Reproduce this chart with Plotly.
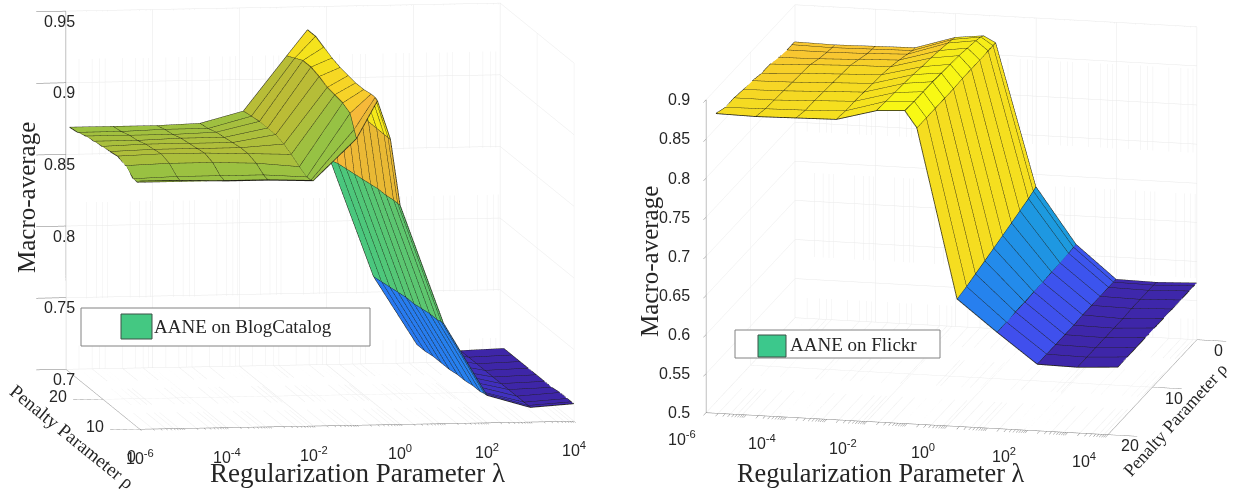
import numpy as np
import plotly.graph_objects as go

# ---------- data ----------
blog_lam_exp = [-6, -5, -4, -3, -2, -1, -0.52, -0.22, 0, 1, 2, 3, 4]
blog_rho = [0.1, 0.7, 1.8, 3.8, 6, 8, 10.2, 12.4, 14.6, 16.8, 19]
blog_z = [  # one list per lambda, values along rho
    [.873, .871, .871, .876, .878, .877, .876, .875, .874, .872, .871],
    [.873, .871, .872, .877, .879, .878, .877, .875, .874, .872, .871],
    [.872, .871, .872, .877, .879, .878, .877, .876, .874, .873, .871],
    [.872, .871, .872, .876, .878, .878, .877, .876, .875, .873, .872],
    [.871, .870, .870, .873, .877, .880, .882, .882, .882, .881, .880],
    [.900, .905, .914, .917, .918, .919, .922, .924, .924, .921, .918],
    [.926, .927, .927, .926, .926, .927, .928, .930, .933, .936, .936],
    [.899, .899, .899, .899, .899, .900, .901, .902, .904, .906, .908],
    [.853, .853, .853, .852, .852, .851, .850, .849, .848, .847, .845],
    [.770, .770, .769, .769, .768, .767, .767, .766, .765, .764, .763],
    [.719, .719, .718, .718, .717, .717, .716, .716, .716, .715, .715],
    [.710, .710, .710, .710, .710, .710, .710, .710, .710, .710, .710],
    [.712, .712, .712, .712, .711, .711, .711, .711, .711, .711, .711],
]

flickr_lam_exp = [-6, -5, -4, -3, -2, -1.3, -1, 0, 1, 2, 3, 4]
flickr_rho = [0.1, 0.7, 1.8, 3.7, 5.6, 7.6, 9.6, 11.6, 13.7, 15.7, 17.8]
flickr_z = [
    [.853, .853, .853, .855, .858, .858, .861, .862, .864, .864, .869],
    [.852, .852, .853, .856, .860, .861, .862, .863, .864, .865, .868],
    [.853, .853, .854, .858, .862, .863, .864, .865, .866, .866, .869],
    [.854, .854, .856, .860, .863, .865, .866, .867, .868, .868, .870],
    [.870, .871, .873, .875, .877, .878, .880, .881, .882, .883, .884],
    [.874, .876, .878, .880, .882, .883, .884, .885, .885, .885, .886],
    [.866, .866, .866, .866, .866, .866, .865, .865, .865, .865, .865],
    [.685, .683, .680, .676, .672, .668, .664, .660, .656, .652, .649],
    [.614, .614, .613, .612, .612, .611, .611, .610, .610, .609, .609],
    [.572, .572, .572, .572, .572, .572, .571, .571, .571, .571, .571],
    [.571, .571, .571, .571, .571, .570, .570, .570, .570, .570, .570],
    [.573, .573, .573, .573, .573, .573, .573, .573, .573, .573, .573],
]

lam_tick_exp = [-6, -4, -2, 0, 2, 4]
lam_labels = ["10<sup>-6</sup>", "10<sup>-4</sup>", "10<sup>-2</sup>", "10<sup>0</sup>", "10<sup>2</sup>", "10<sup>4</sup>"]
rho_ticks = [0, 10, 20]
blog_z_ticks = [0.7, 0.75, 0.8, 0.85, 0.9, 0.95]
flickr_z_ticks = [0.5, 0.55, 0.6, 0.65, 0.7, 0.75, 0.8, 0.85, 0.9]

# every decade and the 2..9 multiples: the tick marks of the log axis
lam_all_ticks = [m * 10.0 ** d for d in range(-6, 4) for m in range(1, 10)] + [1e4]

# ---------- colour map ----------
P_T = [0, .1, .2, .3, .4, .5, .6, .7, .8, .87, .94, 1]
P_C = [(62, 38, 168), (70, 70, 235), (45, 110, 245), (35, 140, 235), (25, 165, 215), (35, 185, 175),
       (70, 200, 130), (145, 195, 70), (215, 185, 45), (250, 185, 60), (245, 225, 30), (249, 251, 20)]


def parula(t):
    t = float(np.clip(t, 0, 1))
    c = [np.interp(t, P_T, [p[n] for p in P_C]) for n in range(3)]
    return "rgb(%d,%d,%d)" % tuple(c)


def surface_traces(lam_exp, rho, z, scene):
    lam = [10.0 ** e for e in lam_exp]
    nl, nr = len(lam), len(rho)
    zz = np.array(z)
    zmin, zmax = zz.min(), zz.max()
    xs, ys, zs = [], [], []
    for a in range(nl):
        for b in range(nr):
            xs.append(lam[a]); ys.append(rho[b]); zs.append(zz[a, b])
    I, J, K, colors = [], [], [], []
    for a in range(nl - 1):
        for b in range(nr - 1):
            v0 = a * nr + b
            v1 = v0 + 1
            v2 = v0 + nr
            v3 = v2 + 1
            col = parula((zz[a, b] - zmin) / (zmax - zmin))
            I += [v0, v1]; J += [v1, v3]; K += [v2, v2]
            colors += [col, col]
    mesh = go.Mesh3d(x=xs, y=ys, z=zs, i=I, j=J, k=K, facecolor=colors, flatshading=True,
                     lighting=dict(ambient=1, diffuse=0, specular=0, fresnel=0, roughness=1),
                     hoverinfo="skip", showscale=False, scene=scene)
    lx, ly, lz = [], [], []
    for a in range(nl):
        lx += [lam[a]] * nr + [None]; ly += list(rho) + [None]; lz += list(zz[a]) + [None]
    for b in range(nr):
        lx += lam + [None]; ly += [rho[b]] * nl + [None]; lz += list(zz[:, b]) + [None]
    lines = go.Scatter3d(x=lx, y=ly, z=lz, mode="lines", line=dict(color="rgb(30,30,20)", width=1.6),
                         hoverinfo="skip", showlegend=False, scene=scene)
    return [mesh, lines]


def wall_traces(z0, z1, rho_back, rho_front, scene):
    mx, my, mz, gx, gy, gz = [], [], [], [], [], []
    for d in range(-6, 4):
        for m in range(2, 10):
            v = m * 10.0 ** d
            mx += [v, v, v, None]; my += [rho_front, rho_back, rho_back, None]; mz += [z0, z0, z1, None]
    for e in lam_tick_exp:
        v = 10.0 ** e
        gx += [v, v, v, None]; gy += [rho_front, rho_back, rho_back, None]; gz += [z0, z0, z1, None]
    dots = go.Scatter3d(x=mx, y=my, z=mz, mode="lines", line=dict(color="rgb(238,238,238)", width=1, dash="dot"),
                        hoverinfo="skip", showlegend=False, scene=scene)
    grid = go.Scatter3d(x=gx, y=gy, z=gz, mode="lines", line=dict(color="rgb(232,232,232)", width=1),
                        hoverinfo="skip", showlegend=False, scene=scene)
    return [dots, grid]


def axis(**kw):
    base = dict(title=dict(text=""), showbackground=False, showgrid=True, gridcolor="rgb(232,232,232)", gridwidth=1,
                showline=True, linecolor="rgb(130,130,130)", linewidth=1, zeroline=False, showspikes=False,
                ticks="outside", ticklen=6, tickcolor="rgb(120,120,120)", showticklabels=False)
    base.update(kw)
    return base


def tick_notes(x_at, y_front, y_side, z_floor, zticks, x_off, y_off, z_off):
    """Tick labels as annotations tied to the scene's own axes (x in log10 units); offsets are in pixels."""
    tf = dict(family="Liberation Sans", size=16, color="#262626")
    out = []
    for e, s in zip(lam_tick_exp, lam_labels):
        out.append(dict(x=e, y=y_front, z=z_floor, text=s, showarrow=False, font=tf, xanchor="center", yanchor="middle",
                        xshift=x_off[0], yshift=-x_off[1]))
    for r in rho_ticks:
        out.append(dict(x=y_side, y=r, z=z_floor, text=str(r), showarrow=False, font=tf, xanchor="center",
                        yanchor="middle", xshift=y_off[0], yshift=-y_off[1]))
    top = max(zticks)
    for v in zticks:
        out.append(dict(x=x_at, y=z_off[2], z=min(v, top - 1e-9), text="%g" % v, showarrow=False, font=tf, xanchor="right",
                        yanchor="middle", xshift=z_off[0], yshift=-z_off[1]))
    return out


fig = go.Figure()
for t in surface_traces(blog_lam_exp, blog_rho, blog_z, "scene"):
    fig.add_trace(t)
for t in wall_traces(0.7, 0.95, 20, 0, "scene"):
    fig.add_trace(t)
for t in surface_traces(flickr_lam_exp, flickr_rho, flickr_z, "scene2"):
    fig.add_trace(t)
for t in wall_traces(0.5, 0.9, 0, 20, "scene2"):
    fig.add_trace(t)

W, H = 1241, 492
E1 = np.array([-0.1479, -0.9814, 0.1223]) * 4
E2 = np.array([0.2143, -0.9468, 0.2418]) * 4


def scene_layout(dom, aspect, eye, cz, yrange, zrange, zticks, notes):
    return dict(
        domain=dom,
        aspectmode="manual", aspectratio=dict(x=aspect[0], y=aspect[1], z=aspect[2]),
        camera=dict(eye=dict(x=eye[0], y=eye[1], z=eye[2] + cz), center=dict(x=0, y=0, z=cz),
                    up=dict(x=0, y=0, z=1), projection=dict(type="orthographic")),
        xaxis=axis(type="log", range=[-6, 4], tickvals=lam_all_ticks, showgrid=False, ticklen=30),
        yaxis=axis(range=yrange, tickvals=rho_ticks, ticklen=12),
        zaxis=axis(range=zrange, tickvals=zticks, ticklen=10),
        bgcolor="white",
        annotations=notes,
    )


SERIF = "Liberation Serif"
fig.update_layout(
    width=W, height=H, autosize=False, paper_bgcolor="white", showlegend=False,
    margin=dict(l=0, r=0, t=0, b=0),
    scene=scene_layout(dict(x=[0, 640 / W], y=[0, 1]), (1.785, 2.016, 1.467), E1, -0.122, [0, 20], [0.7, 0.95],
                       blog_z_ticks,
                       tick_notes(-6, 0, -6, 0.7, blog_z_ticks, (0, 28), (-8, 27), (11, 10, 20))),
    scene2=scene_layout(dict(x=[662 / W, 1], y=[0, 1]), (1.675, 1.638, 1.311), E2, -0.11, [20, 0], [0.5, 0.9],
                        flickr_z_ticks,
                        tick_notes(-6, 20, 4, 0.5, flickr_z_ticks, (-24, 25), (22, 11), (-14, 0, 20))),
    shapes=[
        dict(type="rect", xref="paper", yref="paper", x0=81 / W, x1=370 / W, y0=1 - 346 / H, y1=1 - 308 / H,
             line=dict(color="rgb(130,130,130)", width=1), fillcolor="white"),
        dict(type="rect", xref="paper", yref="paper", x0=121 / W, x1=152 / W, y0=1 - 339 / H, y1=1 - 314 / H,
             line=dict(color="rgb(60,80,70)", width=1), fillcolor="rgb(68,200,130)"),
        dict(type="rect", xref="paper", yref="paper", x0=735 / W, x1=940 / W, y0=1 - 358 / H, y1=1 - 330 / H,
             line=dict(color="rgb(130,130,130)", width=1), fillcolor="white"),
        dict(type="rect", xref="paper", yref="paper", x0=758 / W, x1=786 / W, y0=1 - 357 / H, y1=1 - 335 / H,
             line=dict(color="rgb(60,80,70)", width=1), fillcolor="rgb(60,200,140)"),
    ],
)


def note(text, x, y, size, angle=0, anchor="center"):
    fig.add_annotation(text=text, x=x / W, y=1 - y / H, xref="paper", yref="paper", showarrow=False,
                       textangle=angle, xanchor=anchor, yanchor="middle",
                       font=dict(family=SERIF, size=size, color="#262626"))


note("AANE on BlogCatalog", 152, 326, 19, anchor="left")
note("AANE on Flickr", 788, 344, 19, anchor="left")
note("Regularization Parameter λ", 357, 473, 27)
note("Macro-average", 26, 198, 25, angle=-90)
note("Penalty Parameter ρ", 72, 436, 19, angle=39)
note("Regularization Parameter λ", 881, 473, 26.3)
note("Macro-average", 649, 262, 25, angle=-90)
note("Penalty Parameter ρ", 1175, 420, 18, angle=-48)

fig.write_html("out.html", config={"displayModeBar": False},
               post_script="document.body.style.margin='0';")
